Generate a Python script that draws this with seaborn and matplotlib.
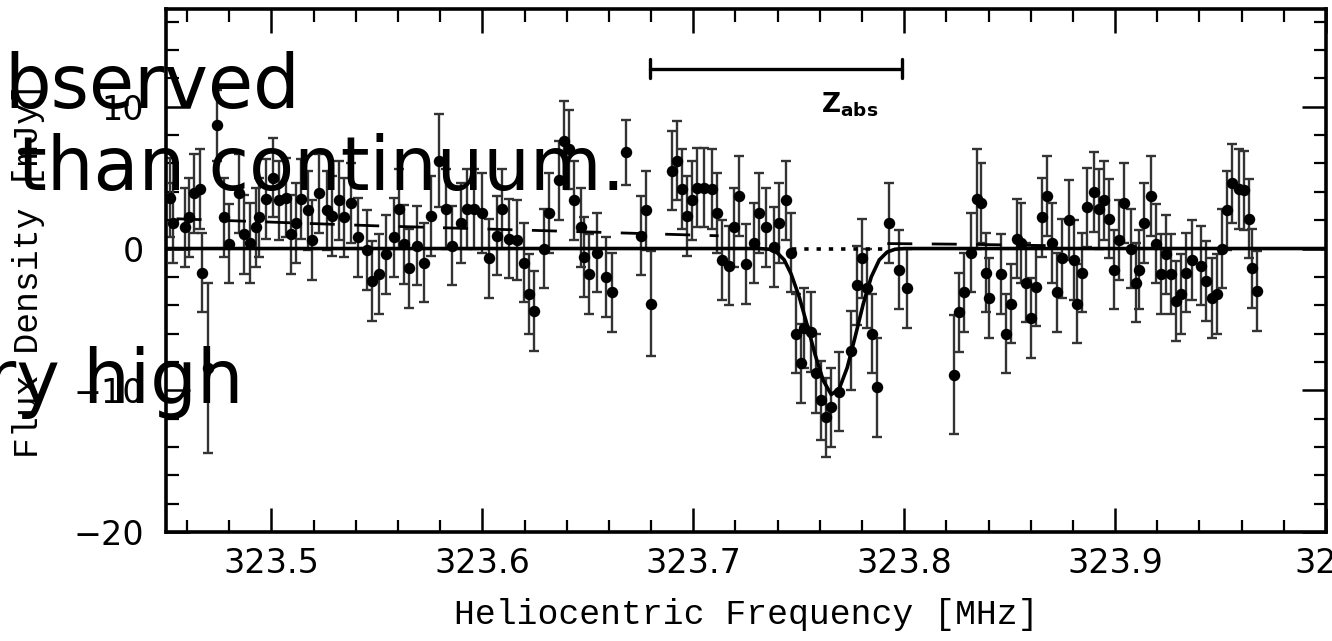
import numpy as np
import pandas as pd
import matplotlib
matplotlib.use("Agg")
import matplotlib.pyplot as plt
import seaborn as sns

# ---------------- data ----------------
freq = [323.4517, 323.4531, 323.4588, 323.4611, 323.4635, 323.4659, 323.4673, 323.4701,
        323.4744, 323.4777, 323.4801, 323.4848, 323.4872, 323.4896, 323.4929, 323.4943,
        323.4976, 323.5005, 323.5038, 323.5071, 323.5095, 323.5118, 323.5142, 323.5171,
        323.5194, 323.5227, 323.5261, 323.5289, 323.5322, 323.5346, 323.5379, 323.5408,
        323.5455, 323.5479, 323.5512, 323.5545, 323.5583, 323.5607, 323.5630, 323.5654,
        323.5692, 323.5725, 323.5758, 323.5796, 323.5829, 323.5858, 323.5900, 323.5929,
        323.5962, 323.6000, 323.6033, 323.6071, 323.6095, 323.6128, 323.6166, 323.6199,
        323.6223, 323.6246, 323.6294, 323.6318, 323.6365, 323.6389, 323.6412, 323.6436,
        323.6469, 323.6483, 323.6507, 323.6545, 323.6588, 323.6616, 323.6682, 323.6754,
        323.6777, 323.6801, 323.6900, 323.6924, 323.6948, 323.6972, 323.6995, 323.7019,
        323.7052, 323.7090, 323.7114, 323.7137, 323.7171, 323.7194, 323.7218, 323.7251,
        323.7289, 323.7313, 323.7346, 323.7384, 323.7408, 323.7441, 323.7464, 323.7488,
        323.7512, 323.7526, 323.7559, 323.7583, 323.7607, 323.7630, 323.7654, 323.7692,
        323.7749, 323.7777, 323.7801, 323.7825, 323.7848, 323.7872, 323.7929, 323.7976,
        323.8014, 323.8237, 323.8261, 323.8284, 323.8318, 323.8346, 323.8365, 323.8389,
        323.8403, 323.8460, 323.8483, 323.8507, 323.8536, 323.8555, 323.8578, 323.8602,
        323.8626, 323.8654, 323.8678, 323.8701, 323.8725, 323.8749, 323.8782, 323.8806,
        323.8820, 323.8844, 323.8867, 323.8900, 323.8924, 323.8948, 323.8972, 323.8995,
        323.9019, 323.9043, 323.9076, 323.9100, 323.9114, 323.9137, 323.9171, 323.9194,
        323.9218, 323.9242, 323.9265, 323.9289, 323.9313, 323.9336, 323.9365, 323.9408,
        323.9431, 323.9460, 323.9483, 323.9507, 323.9531, 323.9555, 323.9588, 323.9611,
        323.9635, 323.9649, 323.9673]

flux = [3.6, 1.8, 1.5, 2.2, 3.9, 4.2, -1.7, -8.4,
        8.7, 2.2, 0.35, 3.9, 1.0, 0.4, 1.5, 2.2,
        3.5, 5.0, 3.4, 3.6, 1.0, 1.8, 3.5, 2.7,
        0.6, 3.9, 2.7, 2.3, 3.4, 2.2, 3.2, 0.8,
        -0.1, -2.3, -1.8, -0.4, 0.8, 2.8, 0.3, -1.4,
        0.2, -1.0, 2.3, 6.2, 2.8, 0.2, 1.8, 2.8,
        2.8, 2.5, -0.7, 0.9, 2.8, 0.7, 0.6, -1.0,
        -3.2, -4.4, 0.0, 2.5, 4.8, 7.6, 7.0, 3.4,
        1.5, -0.6, -1.8, -0.3, -2.0, -3.1, 6.8, 0.9,
        2.7, -3.9, 5.5, 6.2, 4.2, 2.3, 3.4, 4.3,
        4.3, 4.2, 2.5, -0.8, -1.2, 1.5, 3.7, -1.1,
        0.4, 2.5, 1.5, 0.1, 1.8, 3.4, -0.3, -6.0,
        -8.1, -5.6, -5.9, -8.8, -10.7, -11.9, -11.2, -10.1,
        -7.2, -2.6, -0.7, -2.8, -6.0, -9.8, 1.8, -1.5,
        -2.8, -8.9, -4.5, -3.1, -0.3, 3.5, 3.2, -1.7,
        -3.5, -1.8, -6.0, -3.9, 0.7, 0.4, -2.4, -4.9,
        -2.7, 2.2, 3.7, 0.4, -3.1, -0.7, 2.0, -0.8,
        -3.9, -1.7, 2.9, 4.0, 2.8, 3.4, 2.1, -1.5,
        0.6, 3.2, 0.0, -2.4, -1.5, 1.8, 3.7, 0.35,
        -1.8, -0.4, -1.8, -3.7, -3.2, -1.7, -0.8, -1.2,
        -2.3, -3.5, -3.2, 0.0, 2.7, 4.6, 4.2, 4.1,
        2.1, -1.4, -3.0]

flux_err = [2.8] * len(flux)
for i, e in [(7, 6.0), (8, 2.5), (43, 3.3), (61, 2.8), (70, 2.3), (73, 3.7),
             (109, 3.5), (113, 4.2), (117, 3.5)]:
    flux_err[i] = e

# absorption fit
fit_freq = [323.450, 323.7313, 323.7360, 323.7398, 323.7431, 323.7464, 323.7502,
            323.7540, 323.7578, 323.7616, 323.7654, 323.7692, 323.7730, 323.7768,
            323.7806, 323.7844, 323.7882, 323.7919, 323.7957, 323.8000, 324.000]
fit_flux = [0.0, 0.0, -0.05, -0.3, -0.8, -1.8, -3.4,
            -5.4, -7.5, -9.3, -10.3, -9.9, -8.4, -6.2,
            -3.9, -2.0, -0.8, -0.25, -0.05, 0.0, 0.0]

# dotted continuum under the line, dashed reference level
dot_freq = [323.7470, 323.7935]
dot_flux = [0.0, 0.0]
dash_freq_a = [323.455, 323.550, 323.620, 323.712]
dash_flux_a = [2.1, 1.6, 1.3, 0.9]
dash_freq_b = [323.792, 323.830, 323.870]
dash_flux_b = [0.35, 0.3, 0.2]

# redshift range marker
zabs_freq = [323.6796, 323.7990]
zabs_level = 12.7

xticks = [323.5, 323.6, 323.7, 323.8, 323.9, 324.0]
xtick_labels = ["323.5", "323.6", "323.7", "323.8", "323.9", "324"]
yticks = [-20, -10, 0, 10]
ytick_labels = ["\u221220", "\u221210", "0", "10"]

overlay_lines = ["bserved", "than continuum.", "ry high"]

# ---------------- figure ----------------
sns.set_theme(style="ticks")
plt.rcParams["font.family"] = ["DejaVu Sans"]
plt.rcParams.update({"text.color": "black", "axes.labelcolor": "black",
                     "xtick.color": "black", "ytick.color": "black",
                     "axes.edgecolor": "black"})

fig = plt.figure(figsize=(13.32, 6.41), dpi=100)
ax = fig.add_axes([166 / 1332, 1 - 532 / 641, 1160 / 1332, 523 / 641])

df = pd.DataFrame({"freq": freq, "flux": flux, "err": flux_err})

ax.errorbar(df["freq"], df["flux"], yerr=df["err"], fmt="none",
            ecolor="#333333", elinewidth=1.7, capsize=3.4, capthick=1.7, zorder=2)
sns.scatterplot(data=df, x="freq", y="flux", ax=ax, color="black", s=68,
                edgecolor="black", linewidth=0, zorder=3, legend=False)

fit_df = pd.DataFrame({"freq": fit_freq, "flux": fit_flux})
sns.lineplot(data=fit_df, x="freq", y="flux", ax=ax, color="black", lw=2.6,
             sort=False, zorder=4)
sns.lineplot(x=dot_freq, y=dot_flux, ax=ax, color="black", lw=2.6,
             linestyle=(0, (1.2, 2.2)), zorder=4)
sns.lineplot(x=dash_freq_a, y=dash_flux_a, ax=ax, color="black", lw=2.0,
             linestyle=(0, (9, 7)), zorder=4)
sns.lineplot(x=dash_freq_b, y=dash_flux_b, ax=ax, color="black", lw=2.0,
             linestyle=(0, (9, 7)), zorder=4)

# z_abs bar
ax.plot(zabs_freq, [zabs_level, zabs_level], color="black", lw=2.4)
for zf in zabs_freq:
    ax.plot([zf, zf], [zabs_level - 0.65, zabs_level + 0.65], color="black", lw=2.4)
ax.text(323.7607, 9.6, r"$\mathbf{Z}_{\mathbf{abs}}$", fontsize=19,
        ha="left", va="baseline", color="black")

ax.set_xlim(323.45, 324.0)
ax.set_ylim(-20, 16.9)
ax.set_xticks(xticks)
ax.set_xticklabels(xtick_labels)
ax.set_yticks(yticks)
ax.set_yticklabels(ytick_labels)
ax.set_xticks(np.arange(323.46, 324.0, 0.02), minor=True)
ax.set_yticks(np.arange(-20, 17, 2), minor=True)
ax.tick_params(which="both", direction="in", top=True, right=True, color="black",
               labelcolor="black")
ax.tick_params(which="major", length=17, width=1.8, labelsize=24, pad=11)
ax.tick_params(which="minor", length=9, width=1.6)
ax.tick_params(axis="y", which="major", pad=16)
for sp in ax.spines.values():
    sp.set_linewidth(2.6)
    sp.set_color("black")

ax.set_xlabel("Heliocentric Frequency [MHz]", fontsize=25,
              family="Liberation Mono", labelpad=13, color="black")
ax.set_ylabel("Flux Density [mJy]", fontsize=25, family="Liberation Mono",
              color="black")
ax.yaxis.set_label_coords(-0.104, 0.5)

# overlaid slide text
fig.text(4 / 1332, 1 - 108 / 641, overlay_lines[0], fontsize=53,
         ha="left", va="baseline", color="black", zorder=10)
fig.text(18 / 1332, 1 - 190 / 641, overlay_lines[1], fontsize=53,
         ha="left", va="baseline", color="black", zorder=10)
fig.text(244 / 1332, 1 - 403 / 641, overlay_lines[2], fontsize=53,
         ha="right", va="baseline", color="black", zorder=10)

fig.savefig("out.png", dpi=100)
